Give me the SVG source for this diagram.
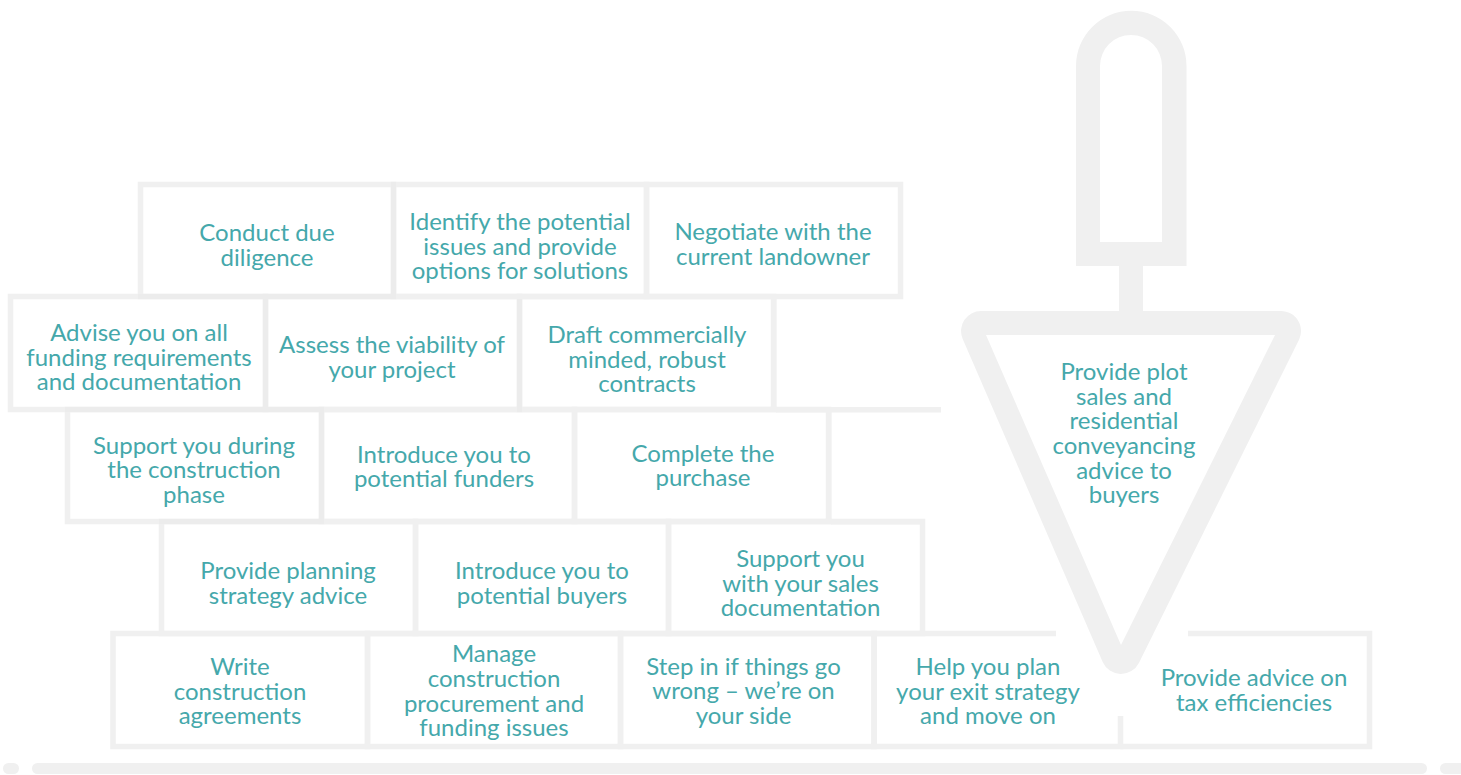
<svg xmlns="http://www.w3.org/2000/svg" width="1461" height="775" viewBox="0 0 1461 775">
<style>
.b{fill:none;stroke:#f0f0f0;stroke-width:5.5}
.f{fill:#f0f0f0}
.d{fill:#ececec}
text{font-family:"Lato","Liberation Sans",sans-serif;font-size:24px;fill:#45a8ab;text-anchor:middle}
</style>
<rect width="1461" height="775" fill="#fff"/>
<g id="base-bar">
<rect class="f" x="3" y="763" width="16" height="11" rx="5.5"/>
<rect class="f" x="32" y="763" width="1395" height="11" rx="5.5"/>
<rect class="f" x="1440" y="763" width="30" height="11" rx="5.5"/>
</g>
<g id="mortar">
<rect class="f" x="776" y="407" width="165" height="5.5"/>
<rect class="f" x="831" y="519" width="94" height="5.5"/>
<rect class="f" x="771" y="299" width="5.5" height="108"/>
<rect class="f" x="826" y="412" width="5.5" height="107"/>
</g>
<g id="brick-1"><rect class="b" x="140.500" y="184.500" width="253" height="112"/><text><tspan x="267" y="241">Conduct due</tspan><tspan x="267" y="266">diligence</tspan></text></g>
<g id="brick-2"><rect class="b" x="393.500" y="184.500" width="253" height="112"/><text><tspan x="520" y="230">Identify the potential</tspan><tspan x="520" y="255">issues and provide</tspan><tspan x="520" y="279">options for solutions</tspan></text></g>
<g id="brick-3"><rect class="b" x="646.500" y="184.500" width="254" height="112"/><text><tspan x="773" y="240">Negotiate with the</tspan><tspan x="773" y="265">current landowner</tspan></text></g>
<g id="brick-4"><rect class="b" x="10.500" y="296.500" width="255" height="113"/><text><tspan x="139" y="341">Advise you on all</tspan><tspan x="139" y="366">funding requirements</tspan><tspan x="139" y="390">and documentation</tspan></text></g>
<g id="brick-5"><rect class="b" x="265.500" y="296.500" width="254" height="113"/><text><tspan x="392" y="353">Assess the viability of</tspan><tspan x="392" y="378">your project</tspan></text></g>
<g id="brick-6"><rect class="b" x="519.500" y="296.500" width="254" height="113"/><text><tspan x="647" y="343">Draft commercially</tspan><tspan x="647" y="368">minded, robust</tspan><tspan x="647" y="392">contracts</tspan></text></g>
<g id="brick-7"><rect class="b" x="67.500" y="409.500" width="254" height="112"/><text><tspan x="194" y="454">Support you during</tspan><tspan x="194" y="478">the construction</tspan><tspan x="194" y="503">phase</tspan></text></g>
<g id="brick-8"><rect class="b" x="321.500" y="409.500" width="253" height="112"/><text><tspan x="444" y="463">Introduce you to</tspan><tspan x="444" y="487">potential funders</tspan></text></g>
<g id="brick-9"><rect class="b" x="574.500" y="409.500" width="254" height="112"/><text><tspan x="703" y="462">Complete the</tspan><tspan x="703" y="486">purchase</tspan></text></g>
<g id="brick-10"><rect class="b" x="161.500" y="521.500" width="254" height="112"/><text><tspan x="288" y="579">Provide planning</tspan><tspan x="288" y="604">strategy advice</tspan></text></g>
<g id="brick-11"><rect class="b" x="415.500" y="521.500" width="253" height="112"/><text><tspan x="542" y="579">Introduce you to</tspan><tspan x="542" y="604">potential buyers</tspan></text></g>
<g id="brick-12"><rect class="b" x="668.500" y="521.500" width="254" height="112"/><text><tspan x="800.500" y="567">Support you</tspan><tspan x="800.500" y="592">with your sales</tspan><tspan x="800.500" y="616">documentation</tspan></text></g>
<g id="brick-13"><rect class="b" x="113" y="633.500" width="254.500" height="113"/><text><tspan x="240" y="675">Write</tspan><tspan x="240" y="700">construction</tspan><tspan x="240" y="724">agreements</tspan></text></g>
<g id="brick-14"><rect class="b" x="367.500" y="633.500" width="253" height="113"/><text><tspan x="494" y="662">Manage</tspan><tspan x="494" y="687">construction</tspan><tspan x="494" y="712">procurement and</tspan><tspan x="494" y="736">funding issues</tspan></text></g>
<g id="brick-15"><rect class="b" x="620.500" y="633.500" width="253.500" height="113"/><text><tspan x="743.500" y="675">Step in if things go</tspan><tspan x="743.500" y="699">wrong – we’re on</tspan><tspan x="743.500" y="724">your side</tspan></text></g>
<g id="brick-16"><path class="b" d="M1056 633.500H874V746.500H1120.500V716"/><text><tspan x="988" y="675">Help you plan</tspan><tspan x="988" y="700">your exit strategy</tspan><tspan x="988" y="724">and move on</tspan></text></g>
<g id="brick-17"><path class="b" d="M1188 633.500H1369.500V746.500H1120.500"/><text><tspan x="1254" y="686">Provide advice on</tspan><tspan x="1254" y="711">tax efficiencies</tspan></text></g>
<g id="mortar-shade">
<rect class="d" x="138" y="294" width="258" height="5"/>
<rect class="d" x="391" y="182" width="5" height="117"/>
<rect class="d" x="263" y="299" width="5" height="113"/>
<rect class="d" x="517" y="299" width="5" height="113"/>
<rect class="d" x="65" y="407" width="259" height="5"/>
<rect class="d" x="319" y="407" width="5" height="117"/>
<rect class="d" x="159" y="519" width="165" height="5"/>
</g>
<g id="trowel">
<path class="f" fill-rule="evenodd" d="M1076 266V66A55 55 0 0 1 1186.500 66V266H1143V311H1281A20 20 0 0 1 1298.900 339.900L1138.900 662.900A20 20 0 0 1 1102.700 662L962.700 339A20 20 0 0 1 981 311H1119V266ZM1100 242H1162V66A31 31 0 0 0 1100 66ZM986 335L1121 645L1275 335Z"/>
<text><tspan x="1124" y="380">Provide plot</tspan><tspan x="1124" y="405">sales and</tspan><tspan x="1124" y="429">residential</tspan><tspan x="1124" y="454">conveyancing</tspan><tspan x="1124" y="479">advice to</tspan><tspan x="1124" y="503">buyers</tspan></text>
</g>
</svg>
